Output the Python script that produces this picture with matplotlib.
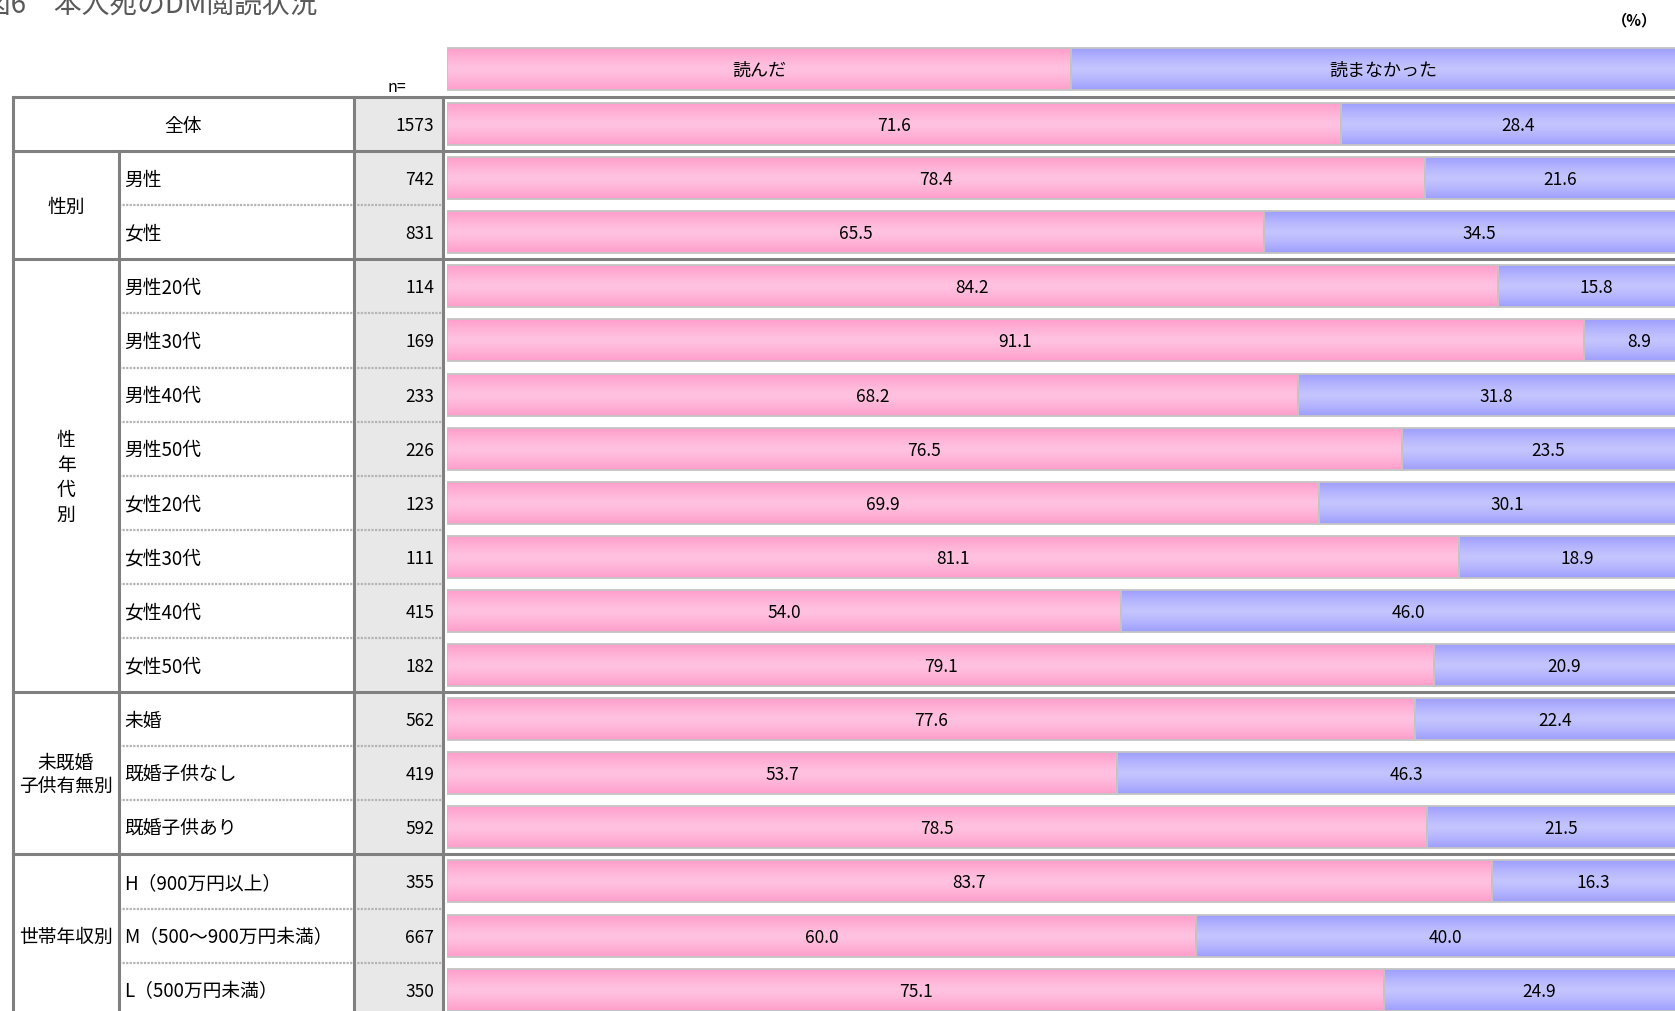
import numpy as np
import matplotlib.pyplot as plt
from matplotlib.colors import LinearSegmentedColormap
from matplotlib.patches import Rectangle

plt.rcParams['font.family'] = ['Noto Sans CJK JP', 'DejaVu Sans']

# data
groups = ['全体', '性別', '性\n年\n代\n別', '未既婚\n子供有無別', '世帯年収別']
group_sizes = [1, 2, 8, 3, 3]
sub_labels = ['', '男性', '女性',
              '男性20代', '男性30代', '男性40代', '男性50代',
              '女性20代', '女性30代', '女性40代', '女性50代',
              '未婚', '既婚子供なし', '既婚子供あり',
              'H（900万円以上）', 'M（500～900万円未満）', 'L（500万円未満）']
n_values = [1573, 742, 831, 114, 169, 233, 226, 123, 111, 415, 182,
            562, 419, 592, 355, 667, 350]
read = [71.6, 78.4, 65.5, 84.2, 91.1, 68.2, 76.5, 69.9, 81.1, 54.0, 79.1,
        77.6, 53.7, 78.5, 83.7, 60.0, 75.1]
not_read = [28.4, 21.6, 34.5, 15.8, 8.9, 31.8, 23.5, 30.1, 18.9, 46.0, 20.9,
            22.4, 46.3, 21.5, 16.3, 40.0, 24.9]
series = ['読んだ', '読まなかった']

W, H = 1675, 1011
ROW_TOP, ROW_H = 97, 54.1
X_BAR = 447
PX_PER_PCT = 12.48

fig = plt.figure(figsize=(W / 100, H / 100), dpi=100)

# table layer in pixel coordinates
tab = fig.add_axes([0, 0, 1, 1])
tab.set_xlim(0, W)
tab.set_ylim(H, 0)
tab.axis('off')

gray = '#808080'
tab.add_patch(Rectangle((354, ROW_TOP), 443 - 354, H - ROW_TOP, color='#e8e8e8', zorder=0))

def row_top(k):
    return ROW_TOP + ROW_H * k

# group boundaries (thick, across whole width) and dotted lines inside groups
bounds = np.cumsum([0] + group_sizes)
for k in bounds[:-1]:
    tab.plot([13, W], [row_top(k)] * 2, color=gray, lw=2.2, zorder=3)
for g, size in enumerate(group_sizes):
    for j in range(1, size):
        k = bounds[g] + j
        tab.plot([119, 443], [row_top(k)] * 2, color='#b4b4b4', lw=1.6,
                 ls=(0, (1, 0.6)), zorder=2)

tab.plot([13, 13], [ROW_TOP, H], color=gray, lw=2.2, zorder=3)
tab.plot([119, 119], [row_top(1), H], color=gray, lw=2.2, zorder=3)
tab.plot([354, 354], [ROW_TOP, H], color=gray, lw=2.2, zorder=3)
tab.plot([443, 443], [ROW_TOP, H], color=gray, lw=2.2, zorder=3)

fs = 13.5
nfs = 12.5
dy = 2
for g, name in enumerate(groups):
    yc = row_top(bounds[g]) + ROW_H * group_sizes[g] / 2 + dy
    if g == 0:
        tab.text((13 + 354) / 2, yc, name, ha='center', va='center', fontsize=fs)
    else:
        tab.text(66, yc, name, ha='center', va='center', fontsize=fs, linespacing=1.25)

for i, (lab, n) in enumerate(zip(sub_labels, n_values)):
    yc = row_top(i) + ROW_H / 2 + dy
    if lab:
        tab.text(124, yc, lab, ha='left', va='center', fontsize=fs)
    tab.text(434, yc, str(n), ha='right', va='center', fontsize=nfs)

tab.text(-17, 14, '図6　本人宛のDM閲読状況', ha='left', va='baseline', fontsize=20, color='#595959')
tab.text(1634, 20, '（%）', ha='center', va='center', fontsize=11, fontweight='bold')
tab.text(397, 87, 'n=', ha='center', va='center', fontsize=11.5)

# bar layer
ax = fig.add_axes([X_BAR / W, 0, (W - X_BAR) / W, 1])
ax.patch.set_alpha(0)
ax.axis('off')

pink = LinearSegmentedColormap.from_list('pink', ['#ffc2e0', '#ff9dca'])
blue = LinearSegmentedColormap.from_list('blue', ['#c4c4ff', '#9e9efe'])

def gradient(bars, cmap):
    grad = np.abs(np.linspace(-1, 1, 64)).reshape(-1, 1) ** 1.3
    for b in bars:
        x0, y0, w, h = b.get_x(), b.get_y(), b.get_width(), b.get_height()
        im = ax.imshow(grad, extent=(x0, x0 + w, y0, y0 + h), cmap=cmap, vmin=0, vmax=1,
                       aspect='auto', interpolation='bilinear', zorder=1)
        im.set_clip_path(b)

def center_labels(bars, labels, size):
    for b, lab in zip(bars, labels):
        ax.text(b.get_x() + b.get_width() / 2, b.get_y() + b.get_height() / 2 + dy / ROW_H,
                lab, ha='center', va='center', fontsize=size, zorder=4)

y = np.arange(len(read))
bh = 42 / ROW_H
edge = dict(facecolor='none', edgecolor='#c4c4c4', linewidth=1.3, zorder=2)

b1 = ax.barh(y, read, height=bh, **edge)
b2 = ax.barh(y, not_read, left=read, height=bh, **edge)
gradient(b1, pink)
gradient(b2, blue)
center_labels(b1, [f'{v:.1f}' for v in read], nfs)
center_labels(b2, [f'{v:.1f}' for v in not_read], nfs)

# legend header bars
yh = (69 - (ROW_TOP + ROW_H / 2)) / ROW_H
h1 = ax.barh([yh], [50], height=bh, **edge)
h2 = ax.barh([yh], [50], left=[50], height=bh, **edge)
gradient(h1, pink)
gradient(h2, blue)
center_labels(h1, [series[0]], 13)
center_labels(h2, [series[1]], 13)

ax.set_xlim(0, (W - X_BAR) / PX_PER_PCT)
ax.set_ylim((H - ROW_TOP - ROW_H / 2) / ROW_H, -(ROW_TOP + ROW_H / 2) / ROW_H)

fig.savefig('out.png', dpi=100)
